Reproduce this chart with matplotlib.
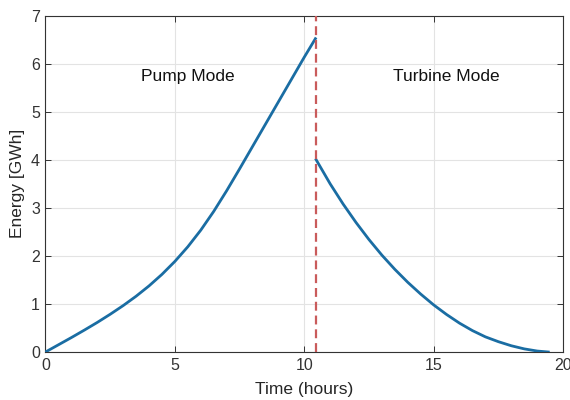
import matplotlib
matplotlib.use('Agg')
import matplotlib.pyplot as plt

# Stored energy while pumping (hours, GWh)
pump_time = [0, 0.5, 1, 1.5, 2, 2.5, 3, 3.5, 4, 4.5, 5, 5.5, 6, 6.5,
             7, 7.5, 8, 8.5, 9, 9.5, 10, 10.43]
pump_energy = [0, 0.15, 0.30, 0.455, 0.615, 0.785, 0.965, 1.16, 1.375,
               1.615, 1.885, 2.19, 2.535, 2.925, 3.355, 3.81, 4.275, 4.74,
               5.205, 5.67, 6.135, 6.52]

# Stored energy while generating
turbine_time = [10.46, 11, 11.5, 12, 12.5, 13, 13.5, 14, 14.5, 15, 15.5,
                16, 16.5, 17, 17.5, 18, 18.5, 19, 19.43]
turbine_energy = [4.0, 3.50, 3.08, 2.695, 2.34, 2.015, 1.72, 1.45, 1.205,
                  0.98, 0.78, 0.60, 0.445, 0.315, 0.215, 0.13, 0.065, 0.02, 0]

switch_time = 10.45

plt.rcParams['font.family'] = ['Liberation Sans', 'DejaVu Sans']

fig = plt.figure(figsize=(5.7, 4.0), dpi=100)
ax = fig.add_axes([0.0798, 0.12, 0.908, 0.841])

line_color = '#1A6DA3'
ax.plot(pump_time, pump_energy, color=line_color, lw=2.0, zorder=3,
        solid_joinstyle='round')
ax.plot(turbine_time, turbine_energy, color=line_color, lw=2.0, zorder=3,
        solid_joinstyle='round')
ax.axvline(switch_time, color='#C95B5B', lw=1.6, ls=(0, (4, 2.2)), zorder=4)

ax.text(5.5, 5.74, 'Pump Mode', ha='center', va='center', fontsize=12.5, color='#111111')
ax.text(15.47, 5.74, 'Turbine Mode', ha='center', va='center', fontsize=12.5, color='#111111')

ax.set_xlim(0, 20)
ax.set_ylim(0, 7)
ax.set_xticks([0, 5, 10, 15, 20])
ax.set_yticks(range(0, 8))
ax.grid(True, color='#E3E3E3', lw=0.8)
ax.set_axisbelow(True)
ax.tick_params(direction='in', top=True, right=True, length=4, width=0.7,
               color='#333333', labelsize=11.5, labelcolor='#333333', pad=4)
for s in ax.spines.values():
    s.set_color('#333333')
    s.set_linewidth(0.8)

ax.set_xlabel('Time (hours)', fontsize=12.5, color='#262626', labelpad=7)
ax.set_ylabel('Energy [GWh]', fontsize=12.5, color='#262626', labelpad=4)

fig.savefig('out.png', dpi=100)
